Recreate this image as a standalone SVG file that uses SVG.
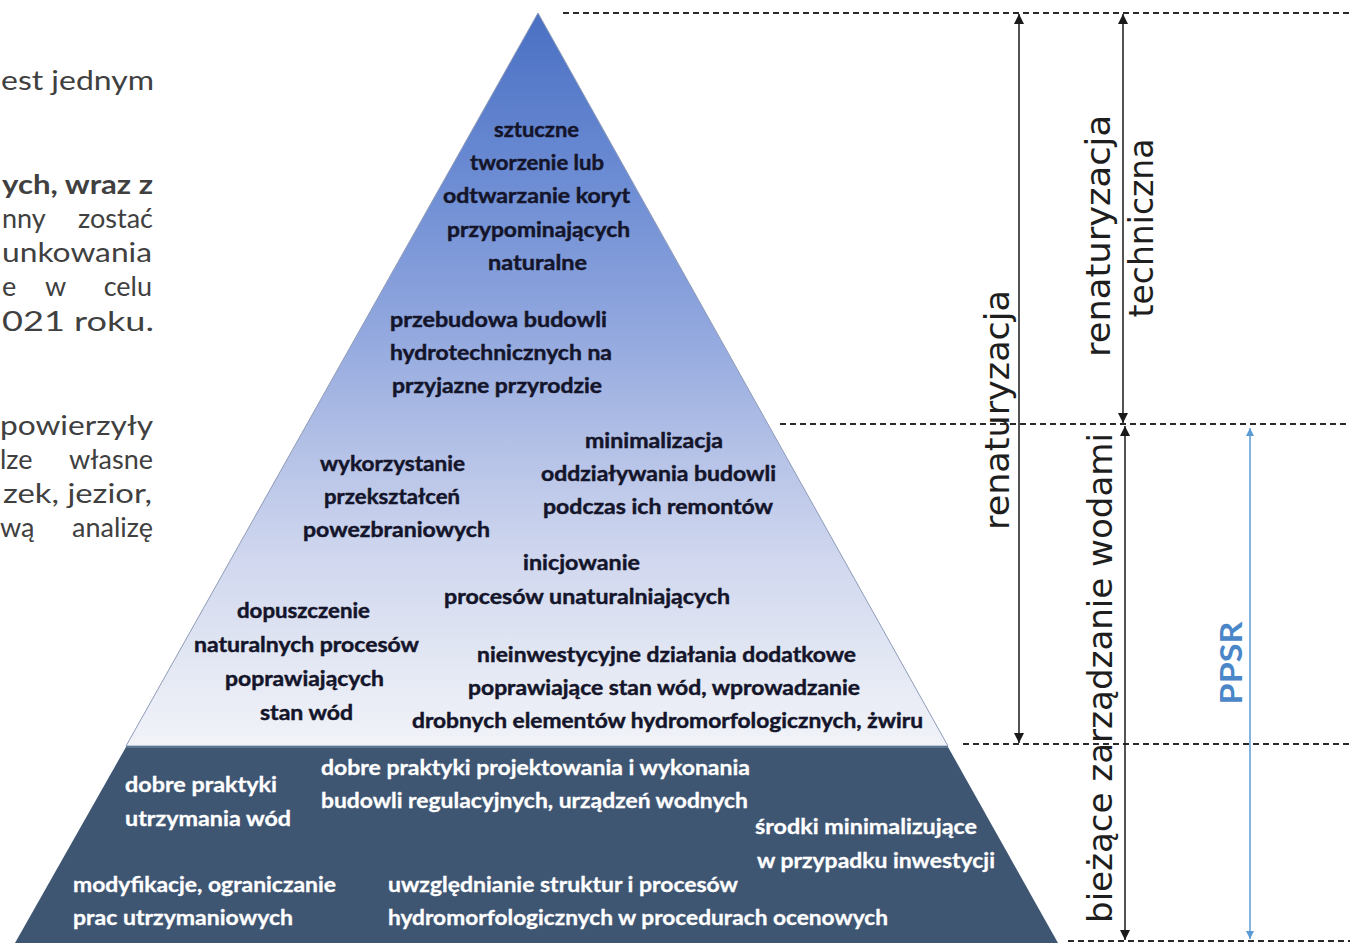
<svg xmlns="http://www.w3.org/2000/svg" width="1350" height="943" viewBox="0 0 1350 943">
  <style>
    .para { font-family: Lato, "Open Sans", sans-serif; font-size: 27px; fill: #404040; }
    .para-b { font-weight: 700; }
    .lvl { font-family: Lato, "Open Sans", sans-serif; font-size: 21px; font-weight: 700; fill: #14152a; stroke: #14152a; stroke-width: 0.45; }
    .base { font-family: Lato, "Open Sans", sans-serif; font-size: 21px; font-weight: 700; fill: #ffffff; stroke: #ffffff; stroke-width: 0.3; }
    .axis { font-family: "DejaVu Sans", "Liberation Sans", sans-serif; font-size: 33px; fill: #1e1e1e; text-anchor: middle; }
    .ppsr { font-family: Lato, "Open Sans", sans-serif; font-size: 30px; font-weight: 700; fill: #4a86c8; text-anchor: middle; }
    .guide { stroke: #2a2a2a; stroke-width: 1.8; stroke-dasharray: 6 4; fill: none; }
    .dim { stroke: #1a1a1a; stroke-width: 1.5; fill: none; }
    .dim-blue { stroke: #5b9bd5; stroke-width: 1.5; fill: none; }
  </style>
  <defs>
    <linearGradient id="pyrFill" gradientUnits="userSpaceOnUse" x1="0" y1="13" x2="0" y2="746">
      <stop offset="0" stop-color="#4a70c3"/>
      <stop offset="0.22" stop-color="#6b8bd3"/>
      <stop offset="0.43" stop-color="#91a7de"/>
      <stop offset="0.6" stop-color="#b5c2e7"/>
      <stop offset="0.75" stop-color="#d1d8ef"/>
      <stop offset="0.9" stop-color="#e5e9f4"/>
      <stop offset="1" stop-color="#f1f3f8"/>
    </linearGradient>
    <marker id="head" viewBox="0 0 10 10" refX="10" refY="5" markerUnits="userSpaceOnUse" markerWidth="13" markerHeight="10" orient="auto-start-reverse">
      <path d="M0,0 L10,5 L0,10 z" fill="#1a1a1a"/>
    </marker>
    <marker id="head-blue" viewBox="0 0 10 10" refX="10" refY="5" markerUnits="userSpaceOnUse" markerWidth="10" markerHeight="8" orient="auto-start-reverse">
      <path d="M0,0 L10,5 L0,10 z" fill="#5b9bd5"/>
    </marker>
  </defs>

  <rect width="1350" height="943" fill="#ffffff"/>

  <!-- cut-off body text on the left -->
  <g id="side-text" class="para">
    <text x="1" y="90" textLength="153" lengthAdjust="spacingAndGlyphs">est jednym</text>
    <text class="para-b" x="2" y="194" textLength="151" lengthAdjust="spacingAndGlyphs">ych, wraz z</text>
    <text y="228"><tspan x="2">nny</tspan><tspan x="153" text-anchor="end">zostać</tspan></text>
    <text x="2" y="262" textLength="150" lengthAdjust="spacingAndGlyphs">unkowania</text>
    <text y="296"><tspan x="2">e</tspan><tspan x="45">w</tspan><tspan x="152" text-anchor="end">celu</tspan></text>
    <text x="2" y="331" textLength="152" lengthAdjust="spacingAndGlyphs">021 roku.</text>
    <text x="0" y="435" textLength="153" lengthAdjust="spacingAndGlyphs">powierzyły</text>
    <text y="469"><tspan x="0">lze</tspan><tspan x="153" text-anchor="end">własne</tspan></text>
    <text x="3" y="503" textLength="149" lengthAdjust="spacingAndGlyphs">zek, jezior,</text>
    <text y="537"><tspan x="0">wą</tspan><tspan x="153" text-anchor="end">analizę</tspan></text>
  </g>

  <!-- pyramid: renaturalisation levels (light) and current water management (dark base) -->
  <g id="pyramid-top">
    <polygon points="538,13 126,746 948,746" fill="url(#pyrFill)" stroke="#8e9bb8" stroke-width="1"/>
  </g>
  <g id="pyramid-base">
    <polygon points="126,747 948,747 1058,943 15,943" fill="#3f5673"/>
    <line x1="126" y1="747" x2="948" y2="747" stroke="#5b7491" stroke-width="2"/>
  </g>

  <g id="level-channels" class="lvl">
    <text x="494" y="137" textLength="85" lengthAdjust="spacingAndGlyphs">sztuczne</text>
    <text x="470" y="170" textLength="134" lengthAdjust="spacingAndGlyphs">tworzenie lub</text>
    <text x="443" y="203" textLength="187" lengthAdjust="spacingAndGlyphs">odtwarzanie koryt</text>
    <text x="447" y="237" textLength="183" lengthAdjust="spacingAndGlyphs">przypominających</text>
    <text x="488" y="270" textLength="99" lengthAdjust="spacingAndGlyphs">naturalne</text>
  </g>
  <g id="level-rebuild" class="lvl">
    <text x="390" y="327" textLength="217" lengthAdjust="spacingAndGlyphs">przebudowa budowli</text>
    <text x="390" y="360" textLength="222" lengthAdjust="spacingAndGlyphs">hydrotechnicznych na</text>
    <text x="392" y="393" textLength="210" lengthAdjust="spacingAndGlyphs">przyjazne przyrodzie</text>
  </g>
  <g id="level-flood" class="lvl">
    <text x="320" y="471" textLength="145" lengthAdjust="spacingAndGlyphs">wykorzystanie</text>
    <text x="324" y="504" textLength="136" lengthAdjust="spacingAndGlyphs">przekształceń</text>
    <text x="303" y="537" textLength="187" lengthAdjust="spacingAndGlyphs">powezbraniowych</text>
  </g>
  <g id="level-repairs" class="lvl">
    <text x="585" y="448" textLength="138" lengthAdjust="spacingAndGlyphs">minimalizacja</text>
    <text x="541" y="481" textLength="235" lengthAdjust="spacingAndGlyphs">oddziaływania budowli</text>
    <text x="543" y="514" textLength="230" lengthAdjust="spacingAndGlyphs">podczas ich remontów</text>
  </g>
  <g id="level-initiate" class="lvl">
    <text x="523" y="570" textLength="117" lengthAdjust="spacingAndGlyphs">inicjowanie</text>
    <text x="444" y="604" textLength="286" lengthAdjust="spacingAndGlyphs">procesów unaturalniających</text>
  </g>
  <g id="level-natural" class="lvl">
    <text x="237" y="618" textLength="133" lengthAdjust="spacingAndGlyphs">dopuszczenie</text>
    <text x="194" y="652" textLength="225" lengthAdjust="spacingAndGlyphs">naturalnych procesów</text>
    <text x="225" y="686" textLength="159" lengthAdjust="spacingAndGlyphs">poprawiających</text>
    <text x="260" y="720" textLength="93" lengthAdjust="spacingAndGlyphs">stan wód</text>
  </g>
  <g id="level-noninvest" class="lvl">
    <text x="477" y="662" textLength="379" lengthAdjust="spacingAndGlyphs">nieinwestycyjne działania dodatkowe</text>
    <text x="468" y="695" textLength="392" lengthAdjust="spacingAndGlyphs">poprawiające stan wód, wprowadzanie</text>
    <text x="412" y="728" textLength="511" lengthAdjust="spacingAndGlyphs">drobnych elementów hydromorfologicznych, żwiru</text>
  </g>

  <g id="base-maintenance" class="base">
    <text x="125" y="792" textLength="152" lengthAdjust="spacingAndGlyphs">dobre praktyki</text>
    <text x="125" y="826" textLength="166" lengthAdjust="spacingAndGlyphs">utrzymania wód</text>
  </g>
  <g id="base-design" class="base">
    <text x="321" y="775" textLength="429" lengthAdjust="spacingAndGlyphs">dobre praktyki projektowania i wykonania</text>
    <text x="321" y="808" textLength="427" lengthAdjust="spacingAndGlyphs">budowli regulacyjnych, urządzeń wodnych</text>
  </g>
  <g id="base-mitigation" class="base">
    <text x="755" y="834" textLength="222" lengthAdjust="spacingAndGlyphs">środki minimalizujące</text>
    <text x="757" y="868" textLength="238" lengthAdjust="spacingAndGlyphs">w przypadku inwestycji</text>
  </g>
  <g id="base-limits" class="base">
    <text x="73" y="892" textLength="263" lengthAdjust="spacingAndGlyphs">modyfikacje, ograniczanie</text>
    <text x="73" y="925" textLength="220" lengthAdjust="spacingAndGlyphs">prac utrzymaniowych</text>
  </g>
  <g id="base-assessment" class="base">
    <text x="388" y="892" textLength="350" lengthAdjust="spacingAndGlyphs">uwzględnianie struktur i procesów</text>
    <text x="388" y="925" textLength="500" lengthAdjust="spacingAndGlyphs">hydromorfologicznych w procedurach ocenowych</text>
  </g>

  <!-- level boundaries -->
  <g id="guides">
    <line class="guide" x1="563" y1="13" x2="1350" y2="13"/>
    <line class="guide" x1="780" y1="424" x2="1350" y2="424"/>
    <line class="guide" x1="963" y1="744" x2="1350" y2="744"/>
    <line class="guide" x1="1068" y1="941" x2="1350" y2="941"/>
  </g>

  <!-- range arrows -->
  <g id="connectors">
    <line class="dim" x1="1019" y1="14" x2="1019" y2="743" marker-start="url(#head)" marker-end="url(#head)"/>
    <line class="dim" x1="1123" y1="14" x2="1123" y2="423" marker-start="url(#head)" marker-end="url(#head)"/>
    <line class="dim" x1="1125" y1="426" x2="1125" y2="940" marker-start="url(#head)" marker-end="url(#head)"/>
    <line class="dim-blue" x1="1250" y1="428" x2="1250" y2="939" marker-start="url(#head-blue)" marker-end="url(#head-blue)"/>
  </g>

  <g id="label-renaturyzacja">
    <text class="axis" transform="translate(1009,410) rotate(-90)" textLength="240" lengthAdjust="spacingAndGlyphs">renaturyzacja</text>
  </g>
  <g id="label-techniczna">
    <text class="axis" transform="translate(1110,236) rotate(-90)" textLength="242" lengthAdjust="spacingAndGlyphs">renaturyzacja</text>
    <text class="axis" transform="translate(1153,228) rotate(-90)" textLength="179" lengthAdjust="spacingAndGlyphs">techniczna</text>
  </g>
  <g id="label-biezace">
    <text class="axis" transform="translate(1112,678) rotate(-90)" textLength="490" lengthAdjust="spacingAndGlyphs">bieżące zarządzanie wodami</text>
  </g>
  <g id="label-ppsr">
    <text class="ppsr" transform="translate(1242,663) rotate(-90)" textLength="83" lengthAdjust="spacingAndGlyphs">PPSR</text>
  </g>
</svg>
